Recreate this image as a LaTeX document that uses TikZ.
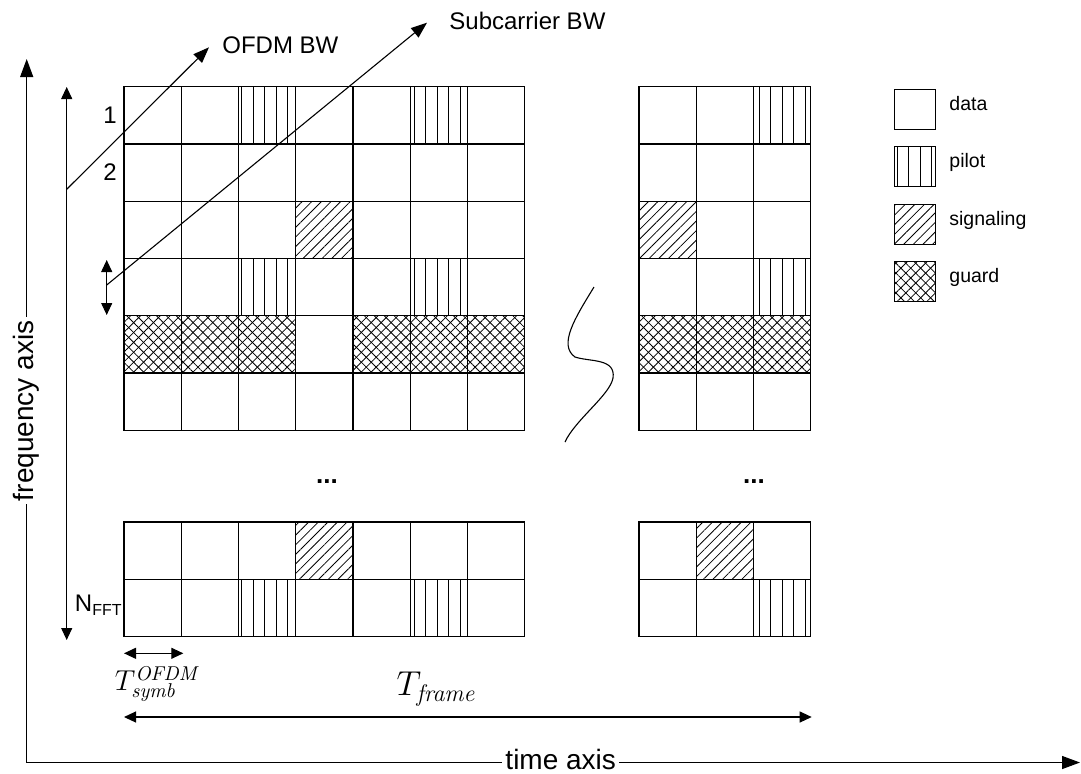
\documentclass[tikz,border=0pt]{standalone}
\usepackage[no-math]{fontspec}
\setmainfont{Liberation Sans}
\usetikzlibrary{arrows.meta,patterns.meta}
\tikzset{
  cell/.style={draw, line width=0.55pt},
  data/.style={cell},
  pilot/.style={cell, pattern={Lines[angle=90,distance=5.75pt,line width=0.45pt]}},
  sig/.style={cell, pattern={Lines[angle=45,distance=3.4pt,line width=0.4pt]}},
  guard/.style={cell, pattern={Lines[angle=45,distance=3.5pt,line width=0.4pt]},
    postaction={pattern={Lines[angle=-45,distance=3.5pt,line width=0.4pt]}}},
  axis/.style={-{Triangle[length=9pt,width=6.5pt]}, line width=0.6pt},
  bw/.style={-{Triangle[length=8pt,width=6pt]}, line width=0.55pt},
  span/.style={{Triangle[length=6pt,width=5.5pt]}-{Triangle[length=6pt,width=5.5pt]}, line width=0.55pt},
  axlabel/.style={fill=white, inner xsep=1.5pt, inner ysep=0pt, font=\fontsize{14}{16}\selectfont},
  lbl/.style={font=\fontsize{12}{14}\selectfont, inner sep=0pt},
  legtext/.style={font=\fontsize{9.75}{11}\selectfont, inner sep=0pt, anchor=base west},
}
\def\cw{57.25}

\begin{document}
\begin{tikzpicture}[x=0.5pt, y=-0.5pt]
  \useasboundingbox (0,0) rectangle (1081,773);

  % first frame, upper part
  \foreach \r/\row in {0/{data,data,pilot,data,data,pilot,data},
                       1/{data,data,data,data,data,data,data},
                       2/{data,data,data,sig,data,data,data},
                       3/{data,data,pilot,data,data,pilot,data},
                       4/{guard,guard,guard,data,guard,guard,guard},
                       5/{data,data,data,data,data,data,data}}
    \foreach \t [count=\c from 0] in \row
      \draw[\t] (124+\c*\cw, 86.7+\r*\cw) rectangle ++(\cw,\cw);
  % first frame, lower part
  \foreach \r/\row in {0/{data,data,data,sig,data,data,data},
                       1/{data,data,pilot,data,data,pilot,data}}
    \foreach \t [count=\c from 0] in \row
      \draw[\t] (124+\c*\cw, 522+\r*\cw) rectangle ++(\cw,\cw);
  % last frame, upper part
  \foreach \r/\row in {0/{data,data,pilot}, 1/{data,data,data},
                       2/{sig,data,data}, 3/{data,data,pilot},
                       4/{guard,guard,guard}, 5/{data,data,data}}
    \foreach \t [count=\c from 0] in \row
      \draw[\t] (639+\c*\cw, 86.7+\r*\cw) rectangle ++(\cw,\cw);
  % last frame, lower part
  \foreach \r/\row in {0/{data,sig,data}, 1/{data,data,pilot}}
    \foreach \t [count=\c from 0] in \row
      \draw[\t] (639+\c*\cw, 522+\r*\cw) rectangle ++(\cw,\cw);

  \node[font=\bfseries\fontsize{13}{15}\selectfont, inner sep=0pt] (dotsl) at (327,481.7) {...};
  \node[font=\bfseries\fontsize{13}{15}\selectfont, inner sep=0pt] (dotsr) at (754,481.7) {...};

  % break
  \draw[line width=0.55pt] (594,287) .. controls (575,318) and (558,345) .. (575,357)
    .. controls (590,362) and (616,358) .. (613,378)
    .. controls (610,395) and (575,420) .. (565,442);

  % axes
  \coordinate (forig) at (26.7,762.5);
  \coordinate (ftop) at (26.7,59);
  \coordinate (tend) at (1080,762.5);
  \draw[axis] (forig) -- node[axlabel, midway, rotate=90] (flabel) {frequency axis} (ftop);
  \draw[axis] (forig) -- node[axlabel, pos=0.507, yshift=1.6pt] (tlabel) {time axis} (tend);

  % subcarriers
  \coordinate (nt) at (66.7,87);
  \coordinate (nb) at (66.7,640);
  \draw[span] (nt) -- (nb);
  \node[lbl, anchor=base east] (one) at (117,123.3) {1};
  \node[lbl, anchor=base east] (two) at (117,180) {2};
  \node[lbl, anchor=base east] (nfft) at (123,611.7) {N\textsubscript{FFT}};

  \coordinate (bws) at (66.7,189.3);
  \coordinate (bwe) at (209,47.3);
  \draw[bw] (bws) -- (bwe);
  \node[lbl, anchor=west] (ofdmbw) at (222,45.7) {OFDM BW};

  \coordinate (sct) at (106.7,260);
  \coordinate (scb) at (106.7,315);
  \draw[span] (sct) -- (scb);
  \coordinate (scs) at (106.7,285);
  \coordinate (sce) at (427,22.7);
  \draw[bw] (scs) -- (sce);
  \node[lbl, anchor=west] (scbw) at (449,21) {Subcarrier BW};

  % durations
  \coordinate (tss) at (124,653.3);
  \coordinate (tse) at (183.3,653.3);
  \draw[span] (tss) -- (tse);
  \node[font=\fontsize{14}{16}\selectfont, inner sep=0pt] (tsymb) at (158,684)
    {$T^{\mathit{OFDM}}_{\mathit{symb}}$};
  \coordinate (tfs) at (124,717);
  \coordinate (tfe) at (811.7,717);
  \draw[span] (tfs) -- (tfe);
  \node[font=\fontsize{17}{19}\selectfont, inner sep=0pt] (tframe) at (437,689)
    {$T_{\mathit{frame}}$};

  % legend
  \foreach \t/\txt [count=\i from 0] in {data/data, pilot/pilot, sig/signaling, guard/guard} {
    \draw[\t] (894.3,89.3+\i*57.5) rectangle ++(41,40);
    \node[legtext] (leg\i) at (949,110.3+\i*57.5) {\txt};
  }
\end{tikzpicture}
\end{document}
